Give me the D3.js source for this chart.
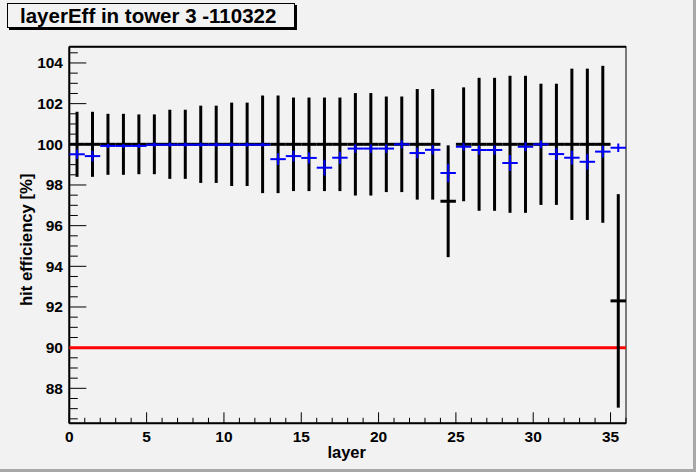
<!DOCTYPE html>
<html>
<head>
<meta charset="utf-8">
<script src="https://cdn.jsdelivr.net/npm/d3@7"></script>
<style>
  body { margin: 0; background: #f2f2f2; }
  svg { display: block; font-family: "Liberation Sans", Arial, sans-serif; font-weight: bold; }
</style>
</head>
<body>
<svg id="chart" width="696" height="472"></svg>
<script>
// layer index (bin low edge), bins are 1 wide
var layers = d3.range(0, 36);

// black histogram: efficiency and its error
var effBlack = [100,100,100,100,100,100,100,100,100,100,100,100,100,100,100,100,100,100,
                100,100,100,100,100,100,97.2,100,100,100,100,100,100,100,100,100,100,92.3];
var errBlack = [1.6,1.6,1.5,1.5,1.47,1.47,1.7,1.7,1.9,1.9,2.05,2.05,2.4,2.4,2.3,2.3,2.3,2.3,
                2.52,2.52,2.35,2.35,2.72,2.72,2.75,2.8,3.27,3.27,3.37,3.37,2.98,2.98,3.72,3.72,3.86,5.25];

// blue histogram
var effBlue = [99.51,99.42,99.92,99.92,99.92,99.98,99.98,99.98,99.98,99.98,99.98,99.98,99.98,99.27,
               99.42,99.33,98.85,99.34,99.79,99.79,99.79,100,99.57,99.73,98.59,99.88,99.72,99.72,
               99.08,99.88,100,99.52,99.34,99.14,99.64,99.83];
var errBlue = [0.23,0.26,0.1,0.1,0.1,0.1,0.1,0.1,0.1,0.1,0.1,0.1,0.1,0.29,0.26,0.27,0.39,0.3,
               0.21,0.21,0.21,0.2,0.26,0.23,0.45,0.18,0.23,0.23,0.39,0.22,0.19,0.29,0.34,0.38,0.29,0.21];

var threshold = 90;
var xTicks = [0, 5, 10, 15, 20, 25, 30, 35];
var yTicks = [88, 90, 92, 94, 96, 98, 100, 102, 104];

var svg = d3.select("#chart");
var fLeft = 69.3, fRight = 626, fTop = 46.7, fBottom = 423.3;

var x = d3.scaleLinear().domain([0, 36]).range([fLeft, fRight]);
var y = d3.scaleLinear().domain([86.28, 104.8]).range([fBottom, fTop]);

// canvas bevel
svg.append("rect").attr("x", 693).attr("y", 0).attr("width", 3).attr("height", 472).attr("fill", "#a8a8a8");
svg.append("rect").attr("x", 0).attr("y", 469).attr("width", 696).attr("height", 3).attr("fill", "#a8a8a8");

// frame
svg.append("rect")
  .attr("x", fLeft).attr("y", fTop)
  .attr("width", fRight - fLeft).attr("height", fBottom - fTop)
  .attr("fill", "#f2f2f2").attr("stroke", "#000").attr("stroke-width", 1);
svg.append("line").attr("x1", fLeft).attr("x2", fRight).attr("y1", fTop).attr("y2", fTop)
  .attr("stroke", "#000").attr("stroke-width", 2);

// y axis ticks
var yMinor = d3.range(86.5, 104.8, 0.5);
var yAx = svg.append("g");
yAx.selectAll("line").data(yMinor).enter().append("line")
  .attr("x1", fLeft).attr("x2", function(d) { return d % 2 === 0 ? fLeft + 17 : fLeft + 8.5; })
  .attr("y1", function(d) { return y(d); }).attr("y2", function(d) { return y(d); })
  .attr("stroke", "#000").attr("stroke-width", 1);
yAx.selectAll("text").data(yTicks).enter().append("text")
  .attr("x", 63).attr("y", function(d) { return y(d) + 5.5; })
  .attr("text-anchor", "end").attr("font-size", 15.5)
  .text(function(d) { return d; });
svg.append("line").attr("x1", fLeft).attr("x2", fLeft).attr("y1", fTop).attr("y2", fBottom)
  .attr("stroke", "#000").attr("stroke-width", 2);

// x axis ticks
var xMinor = d3.range(0, 37, 1);
var xAx = svg.append("g");
xAx.selectAll("line").data(xMinor).enter().append("line")
  .attr("x1", function(d) { return x(d); }).attr("x2", function(d) { return x(d); })
  .attr("y1", fBottom).attr("y2", function(d) { return d % 5 === 0 ? fBottom - 11 : fBottom - 5.5; })
  .attr("stroke", "#000").attr("stroke-width", 1);
xAx.selectAll("text").data(xTicks).enter().append("text")
  .attr("x", function(d) { return x(d); }).attr("y", 442)
  .attr("text-anchor", "middle").attr("font-size", 15.5)
  .text(function(d) { return d; });
svg.append("line").attr("x1", fLeft).attr("x2", fRight).attr("y1", fBottom).attr("y2", fBottom)
  .attr("stroke", "#000").attr("stroke-width", 2);

// axis titles
svg.append("text").attr("x", (fLeft + fRight) / 2 - 1).attr("y", 458)
  .attr("text-anchor", "middle").attr("font-size", 16.5).text("layer");
svg.append("text").attr("transform", "translate(32,173.5) rotate(-90)")
  .attr("text-anchor", "end").attr("font-size", 16.7).text("hit efficiency [%]");

// threshold line
svg.append("line").attr("x1", x(0)).attr("x2", x(36))
  .attr("y1", y(threshold)).attr("y2", y(threshold))
  .attr("stroke", "#ff0000").attr("stroke-width", 3);

// black histogram with errors
var blk = svg.append("g").attr("stroke", "#000").attr("stroke-width", 3);
blk.selectAll(".v").data(layers).enter().append("line").attr("class", "v")
  .attr("x1", function(d) { return x(d + 0.5); }).attr("x2", function(d) { return x(d + 0.5); })
  .attr("y1", function(d, i) { return y(effBlack[i] + errBlack[i]); })
  .attr("y2", function(d, i) { return y(effBlack[i] - errBlack[i]); });
blk.selectAll(".h").data(layers).enter().append("line").attr("class", "h")
  .attr("x1", function(d) { return x(d); }).attr("x2", function(d) { return x(d + 1); })
  .attr("y1", function(d, i) { return y(effBlack[i]); })
  .attr("y2", function(d, i) { return y(effBlack[i]); });

// blue histogram with errors
var blu = svg.append("g").attr("stroke", "#0000ff").attr("stroke-width", 2);
blu.selectAll(".v").data(layers).enter().append("line").attr("class", "v")
  .attr("x1", function(d) { return x(d + 0.5); }).attr("x2", function(d) { return x(d + 0.5); })
  .attr("y1", function(d, i) { return y(effBlue[i] + errBlue[i]); })
  .attr("y2", function(d, i) { return y(effBlue[i] - errBlue[i]); });
blu.selectAll(".h").data(layers).enter().append("line").attr("class", "h")
  .attr("x1", function(d) { return x(d); }).attr("x2", function(d) { return x(d + 1); })
  .attr("y1", function(d, i) { return y(effBlue[i]); })
  .attr("y2", function(d, i) { return y(effBlue[i]); });

// title box with shadow
svg.append("rect").attr("x", 9).attr("y", 5).attr("width", 288).attr("height", 25).attr("fill", "#000");
svg.append("rect").attr("x", 7.5).attr("y", 3.5).attr("width", 287).attr("height", 24)
  .attr("fill", "#f2f2f2").attr("stroke", "#000").attr("stroke-width", 1);
svg.append("text").attr("x", 20).attr("y", 22.5).attr("font-size", 20.5)
  .text("layerEff in tower 3 -110322");
</script>
</body>
</html>
